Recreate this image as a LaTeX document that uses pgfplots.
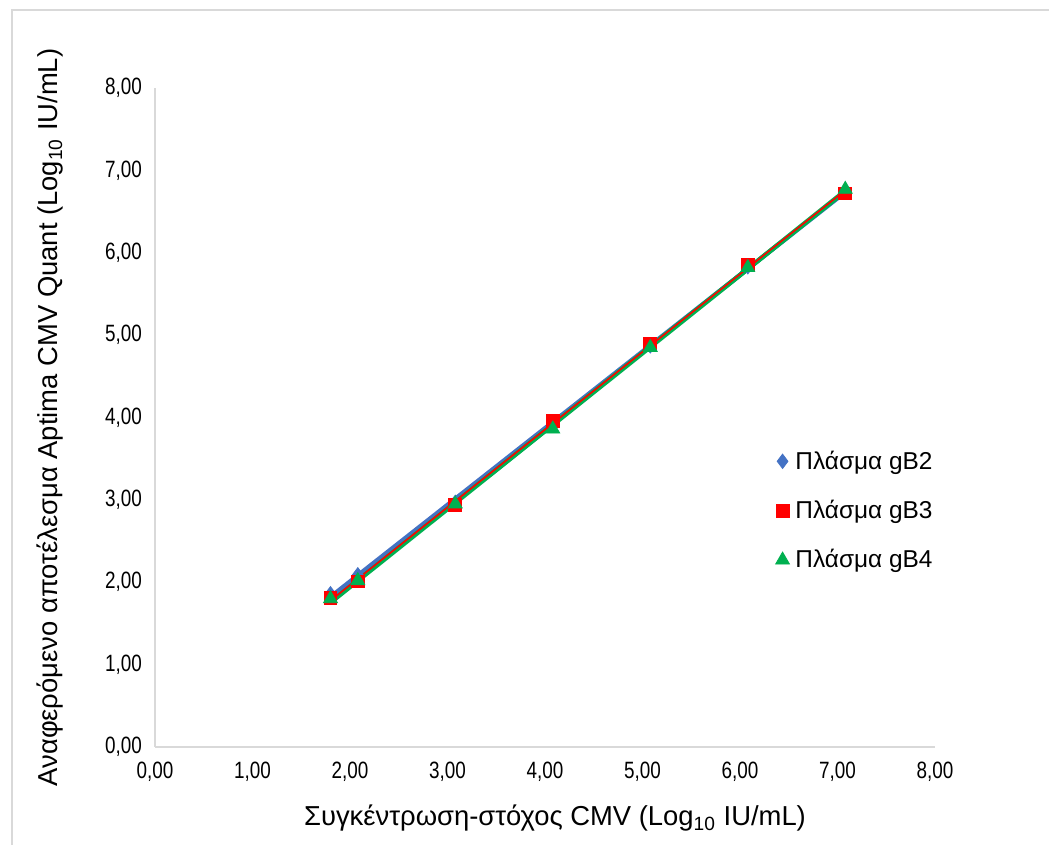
\documentclass[border=0pt]{standalone}
\usepackage{fontspec}
\setmainfont{Liberation Sans}
\newfontfamily\narrowfont[FakeStretch=0.8]{Liberation Sans}
\usepackage{pgfplots}
\usepackage{pgfplotstable}
\pgfplotsset{compat=1.18}

\definecolor{cblue}{HTML}{4472C4}
\definecolor{cred}{HTML}{FF0000}
\definecolor{cgreen}{HTML}{00B050}
\definecolor{cgrid}{HTML}{D9D9D9}

\pgfplotstableread{
x     y
1.80  1.86
2.08  2.09
3.08  2.97
4.08  3.92
5.08  4.87
6.08  5.83
7.08  6.74
}\gbtwo
\pgfplotstableread{
x     y
1.80  1.81
2.08  2.01
3.08  2.94
4.08  3.96
5.08  4.89
6.08  5.85
7.08  6.72
}\gbthree
\pgfplotstableread{
x     y
1.80  1.80
2.08  2.02
3.08  2.95
4.08  3.86
5.08  4.85
6.08  5.82
7.08  6.77
}\gbfour

\begin{document}
\begin{tikzpicture}[x=0.5pt,y=0.5pt]
% 1 px of the reference = 0.5pt; axis origin sits at pixel (155,747)
\useasboundingbox (-155,-98) rectangle (894,747);
\draw[cgrid, line width=0.8pt] (-143,-120) -- (-143,737) -- (910,737);
\begin{axis}[
  at={(0,0)}, anchor=origin,
  scale only axis, width=390pt, height=329.5pt,
  xmin=0, xmax=8, ymin=0, ymax=8,
  xtick={0,...,8}, ytick={0,...,8},
  axis x line*=bottom, axis y line*=left,
  axis line style={cgrid, line width=0.8pt, -},
  major tick length=0pt,
  tick label style={font=\narrowfont\fontsize{11.8}{13}\selectfont, text=black},
  /pgf/number format/.cd, fixed, fixed zerofill, precision=2, use comma, assume math mode=true,
  /pgfplots/.cd,
  xticklabel style={yshift=-4pt},
  yticklabel style={xshift=-3pt},
  xlabel={Συγκέντρωση-στόχος CMV (Log\textsubscript{10} IU/mL)},
  ylabel={Αναφερόμενο αποτέλεσμα Aptima CMV Quant (Log\textsubscript{10} IU/mL)},
  label style={font=\fontsize{13.7}{16}\selectfont},
  xlabel style={yshift=-5pt, xshift=5pt},
  ylabel style={yshift=14pt},
  legend style={at={(axis cs:6.3,3.7)}, anchor=north west, draw=none, fill=none,
    font=\fontsize{12.2}{14}\selectfont, row sep=10pt,
    nodes={inner xsep=3pt}},
  legend cell align=left,
  clip=false]
\addplot[only marks, mark=diamond*, mark size=3.6pt, color=cblue] table[x=x,y=y] {\gbtwo};
\addplot[only marks, mark=square*, mark size=3.2pt, color=cred] table[x=x,y=y] {\gbthree};
\addplot[only marks, mark=triangle*, mark size=4pt, color=cgreen] table[x=x,y=y] {\gbfour};
\legend{Πλάσμα gB2, Πλάσμα gB3, Πλάσμα gB4}
\addplot[no marks, cblue, line width=2.2pt, forget plot]
  table[x=x, y={create col/linear regression={y=y}}] {\gbtwo};
\addplot[no marks, cgreen, line width=2.4pt, forget plot]
  table[x=x, y={create col/linear regression={y=y}}] {\gbfour};
\addplot[no marks, cred, line width=0.8pt, forget plot]
  table[x=x, y={create col/linear regression={y=y}}] {\gbthree};
\end{axis}
\end{tikzpicture}
\end{document}
